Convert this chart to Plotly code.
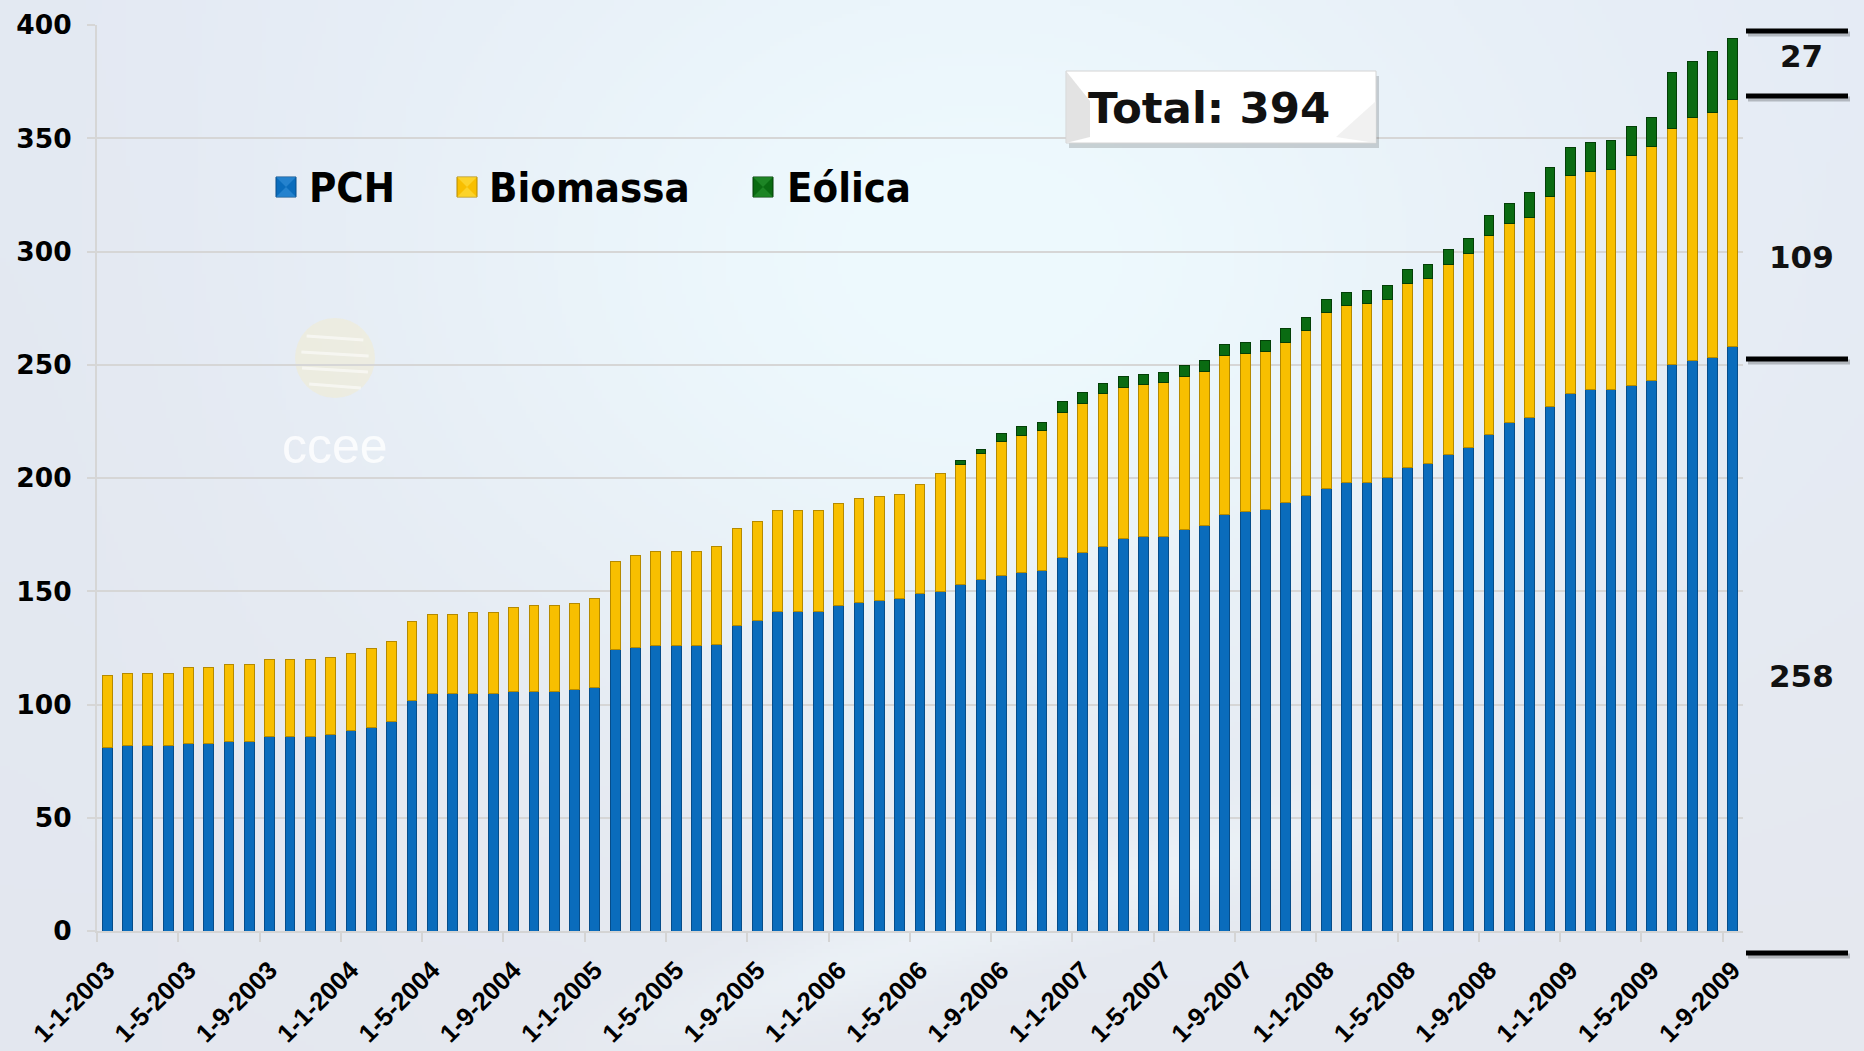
import base64, struct, zlib
import numpy as np
import plotly.graph_objects as go

# ---------------- data ----------------
years = list(range(2003, 2010))
months = [f"1-{m}-{y}" for y in years for m in range(1, 13)][:81]   # 1-1-2003 ... 1-9-2009

PCH = [80.8, 81.7, 81.7, 81.7, 82.8, 82.8, 83.6, 83.6, 85.7, 85.7, 85.7, 86.6,
       88.6, 89.8, 92.6, 101.9, 104.8, 104.8, 104.8, 104.8, 105.8, 105.8, 105.8, 106.8,
       107.7, 124.2, 125.0, 125.9, 125.9, 125.9, 126.7, 134.8, 136.9, 140.9, 140.9, 140.9,
       143.8, 145.0, 146.0, 147.0, 148.8, 150.0, 152.9, 155.1, 157.1, 158.1, 159.1, 164.8,
       166.9, 169.9, 173.1, 174.0, 174.0, 177.1, 179.1, 184.1, 185.0, 185.9, 189.0, 192.2,
       195.4, 198.1, 198.1, 200.3, 204.5, 206.4, 210.4, 213.5, 219.2, 224.7, 226.5, 231.4,
       237.2, 239.0, 239.0, 240.9, 243.1, 250.0, 251.9, 253.2, 258.0]

Biomassa = [31.8, 31.9, 31.9, 31.9, 33.7, 33.7, 34.1, 34.1, 34.1, 34.1, 34.1, 34.1,
            34.1, 34.8, 35.0, 34.8, 35.0, 35.0, 36.0, 36.0, 36.9, 37.9, 37.9, 38.0,
            39.0, 38.8, 41.0, 41.8, 41.8, 41.8, 43.0, 43.0, 43.8, 44.8, 44.8, 44.8,
            45.0, 45.8, 45.8, 45.8, 48.2, 52.1, 53.1, 55.8, 59.0, 60.7, 61.7, 64.1,
            66.0, 67.2, 67.0, 67.2, 68.1, 67.9, 68.0, 70.0, 70.0, 70.1, 71.0, 72.8,
            77.7, 77.9, 79.0, 78.7, 81.5, 81.8, 83.7, 85.5, 87.9, 87.5, 88.6, 92.9,
            96.2, 96.3, 97.3, 101.5, 103.2, 104.4, 107.4, 108.1, 109.0]

Eolica = [None] * 42 + [1.6, 1.6, 3.5, 4.0, 3.9, 5.0,
                        4.8, 4.8, 4.8, 4.7, 4.7, 4.7, 4.8, 4.7, 4.9, 4.7, 5.9, 5.9,
                        5.9, 5.9, 5.8, 5.9, 5.9, 5.9, 6.6, 6.9, 8.8, 8.8, 10.9, 12.8,
                        12.6, 12.8, 12.8, 12.7, 12.8, 24.7, 24.8, 26.9, 27.0]

series_names = ["PCH", "Biomassa", "Eólica"]
y_ticks = list(range(0, 401, 50))
tick_idx = list(range(0, len(months), 4))

# ---------------- geometry helpers (pixels -> paper) ----------------
W, H = 1864, 1051
ML, MR, MT, MB = 97, 121, 25, 120
PW, PH = W - ML - MR, H - MT - MB


def px(x):
    return (x - ML) / PW


def py(y):
    return (H - MB - y) / PH


# ---------------- background image (procedural gradient) ----------------
def make_bg(w=466, h=263):
    sx, sy = W / w, H / h
    X, Y = np.meshgrid((np.arange(w) + 0.5) * sx, (np.arange(h) + 0.5) * sy)
    top = np.array([229, 235, 245], float)
    bot = np.array([229, 232, 239], float)
    t = (Y / H)[..., None]
    img = top * (1 - t) + bot * t
    g = np.exp(-(((X - 980) / 560) ** 2 + ((Y - 260) / 420) ** 2))[..., None]
    img = img * (1 - g) + np.array([238, 250, 254], float) * g
    gl = np.exp(-((X / 260) ** 2))[..., None] * 0.5
    img = img * (1 - gl) + np.array([226, 231, 240], float) * gl
    d = ((Y - 1051) + (X - 560) * 0.30) / 45.0
    gs = (np.exp(-d ** 2) * np.clip((X - 520) / 300, 0, 1) * np.clip((1500 - X) / 300, 0, 1))[..., None] * 0.45
    img = img * (1 - gs) + np.array([242, 250, 253], float) * gs
    img = np.clip(img, 0, 255).astype(np.uint8)
    raw = b"".join(b"\x00" + img[r].tobytes() for r in range(h))

    def chunk(tag, data):
        c = struct.pack(">I", len(data)) + tag + data
        return c + struct.pack(">I", zlib.crc32(tag + data) & 0xFFFFFFFF)

    png = (b"\x89PNG\r\n\x1a\n" + chunk(b"IHDR", struct.pack(">IIBBBBB", w, h, 8, 2, 0, 0, 0))
           + chunk(b"IDAT", zlib.compress(raw, 9)) + chunk(b"IEND", b""))
    return "data:image/png;base64," + base64.b64encode(png).decode()


# ---------------- figure ----------------
x = list(range(len(months)))
colors = {"PCH": ("#0A6CBC", "#064D8A"),
          "Biomassa": ("#F8BF00", "#B58A00"),
          "Eólica": ("#0A6B12", "#033F07")}

fig = go.Figure()
for name, vals in zip(series_names, [PCH, Biomassa, Eolica]):
    fill, edge = colors[name]
    fig.add_bar(x=x, y=vals, name=name, customdata=months,
                hovertemplate="%{customdata}<br>" + name + ": %{y}<extra></extra>",
                marker=dict(color=fill, line=dict(color=edge, width=1)))

shapes = []
annotations = []

# watermark logo (faint globe + text)
gx, gy, gr = 335, 358, 40
shapes.append(dict(type="circle", xref="paper", yref="paper", layer="below",
                   x0=px(gx - gr), x1=px(gx + gr), y0=py(gy + gr), y1=py(gy - gr),
                   fillcolor="rgba(252,236,180,0.30)", line=dict(width=0)))
for k, dy in enumerate([-22, -6, 10, 26]):
    half = (gr ** 2 - dy ** 2) ** 0.5 * 0.85
    shapes.append(dict(type="line", xref="paper", yref="paper", layer="below",
                       x0=px(gx - half), x1=px(gx + half), y0=py(gy + dy), y1=py(gy + dy + 4),
                       line=dict(color="rgba(255,255,255,0.55)", width=3)))
annotations.append(dict(xref="paper", yref="paper", x=px(335), y=py(446), xanchor="center", yanchor="middle",
                        text="ccee", showarrow=False,
                        font=dict(family="Liberation Sans Narrow, Liberation Sans", size=50,
                                  color="rgba(255,255,255,0.8)")))

# legend (manual, bevelled squares)
leg = [("PCH", 276, 307), ("Biomassa", 457, 487), ("Eólica", 753, 785)]
light = {"PCH": "#3A95DD", "Biomassa": "#FFE34A", "Eólica": "#2E9A35"}
for name, ix, tx in leg:
    fill, edge = colors[name]
    x0, x1, y0, y1 = ix, ix + 20, 177, 197
    cx, cy = (x0 + x1) / 2, (y0 + y1) / 2
    shapes.append(dict(type="rect", xref="paper", yref="paper", x0=px(x0), x1=px(x1), y0=py(y1), y1=py(y0),
                       fillcolor=fill, line=dict(color=edge, width=1)))
    for pts, col in [([(x0, y0), (x1, y0), (cx, cy)], light[name]),
                     ([(x0, y1), (x1, y1), (cx, cy)], light[name])]:
        path = "M " + " L ".join(f"{px(a):.5f},{py(b):.5f}" for a, b in pts) + " Z"
        shapes.append(dict(type="path", xref="paper", yref="paper", path=path,
                           fillcolor=col, opacity=0.55, line=dict(width=0)))
    annotations.append(dict(xref="paper", yref="paper", x=px(tx), y=py(187), xanchor="left", yanchor="middle",
                            text=f"<b>{name}</b>", showarrow=False,
                            font=dict(family="DejaVu Sans Condensed, DejaVu Sans", size=41.5, color="#000000")))

# Total box
bx0, bx1, by0, by1 = 1066, 1376, 71, 143
shapes.append(dict(type="rect", xref="paper", yref="paper", x0=px(bx0 + 3), x1=px(bx1 + 3), y0=py(by1 + 5), y1=py(by0 + 5),
                   fillcolor="rgba(0,0,0,0.16)", line=dict(width=0)))
shapes.append(dict(type="rect", xref="paper", yref="paper", x0=px(bx0), x1=px(bx1), y0=py(by1), y1=py(by0),
                   fillcolor="#FFFFFF", line=dict(color="#D4D4D4", width=1)))
for pts, col in [([(bx0, by0), (bx0 + 24, by0 + 30), (bx0 + 24, by1 - 6), (bx0, by1)], "#DCDCDC"),
                 ([(bx1, by0 + 30), (bx1, by1), (bx1 - 40, by1 - 6)], "#EEEEEE")]:
    path = "M " + " L ".join(f"{px(a):.5f},{py(b):.5f}" for a, b in pts) + " Z"
    shapes.append(dict(type="path", xref="paper", yref="paper", path=path,
                       fillcolor=col, opacity=0.8, line=dict(width=0)))
total = round(PCH[-1] + Biomassa[-1] + Eolica[-1])
annotations.append(dict(xref="paper", yref="paper", x=px(1086), y=py(108), xanchor="left", yanchor="middle",
                        text=f"<b>Total: {total}</b>", showarrow=False,
                        font=dict(family="DejaVu Sans", size=43.5, color="#111111")))

# right-hand brackets and labels
for yy in [31, 96, 359, 953]:
    shapes.append(dict(type="line", xref="paper", yref="paper", x0=px(1748), x1=px(1850),
                       y0=py(yy + 3), y1=py(yy + 3), line=dict(color="rgba(0,0,0,0.22)", width=5)))
    shapes.append(dict(type="line", xref="paper", yref="paper", x0=px(1746), x1=px(1848),
                       y0=py(yy), y1=py(yy), line=dict(color="#000000", width=5)))
for val, yy in [(Eolica[-1], 56), (Biomassa[-1], 257), (PCH[-1], 676)]:
    annotations.append(dict(xref="paper", yref="paper", x=px(1801), y=py(yy), xanchor="center", yanchor="middle",
                            text=f"<b>{round(val)}</b>", showarrow=False,
                            font=dict(family="DejaVu Sans", size=31, color="#111111")))

fig.update_layout(
    width=W, height=H,
    margin=dict(l=ML, r=MR, t=MT, b=MB, autoexpand=False),
    barmode="stack", bargap=0.52,
    showlegend=False,
    paper_bgcolor="#E8EEF5", plot_bgcolor="rgba(0,0,0,0)",
    images=[dict(source=make_bg(), xref="paper", yref="paper", x=-ML / PW, y=1 + MT / PH,
                 sizex=W / PW, sizey=H / PH, sizing="stretch", xanchor="left", yanchor="top",
                 layer="below")],
    shapes=shapes, annotations=annotations,
    xaxis=dict(range=[-0.5, len(months) - 0.5], tickvals=tick_idx, ticktext=[months[i] for i in tick_idx],
               tickangle=-45, ticks="", showgrid=False, zeroline=False, automargin=False,
               showline=True, linecolor="#D4D4D4", linewidth=2, ticklabelstandoff=12,
               minor=dict(tickvals=[i - 0.5 for i in tick_idx], ticks="outside", ticklen=9,
                          tickcolor="#D4D4D4", tickwidth=2, showgrid=False),
               tickfont=dict(family="Liberation Sans Narrow, Arial Narrow, Liberation Sans", size=25.5,
                             color="#000000", weight="bold")),
    yaxis=dict(range=[0, 400], tickvals=y_ticks, showgrid=True, gridcolor="#D6D6D6", gridwidth=1.5,
               zeroline=False, showline=True, linecolor="#D6D6D6", linewidth=2, automargin=False,
               ticks="outside", ticklen=8, tickcolor="#D6D6D6", tickwidth=1.5, ticklabelstandoff=10,
               tickfont=dict(family="DejaVu Sans", size=26.5, color="#000000", weight="bold")),
)

fig.write_html("out.html", config={"displayModeBar": False},
               post_script="document.body.style.margin='0px';document.body.style.padding='0px';")
